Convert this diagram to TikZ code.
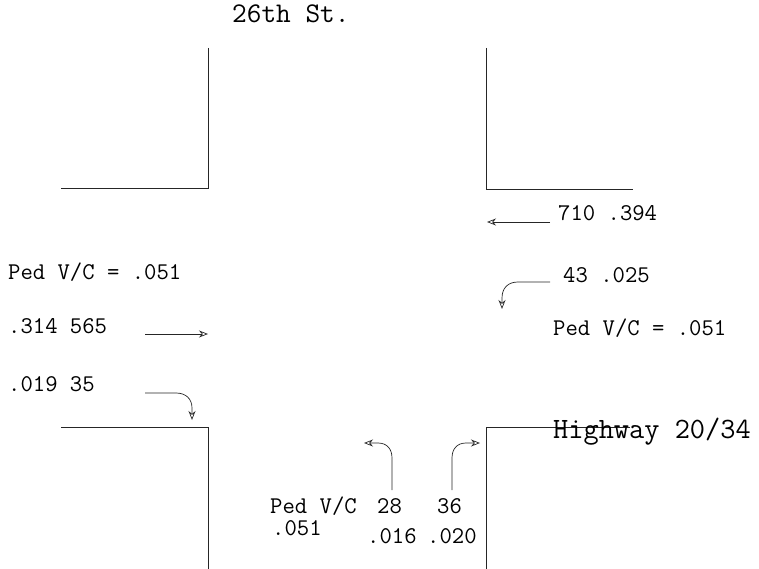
\documentclass[tikz,border=0pt]{standalone}
\usepackage{fontspec}
\usetikzlibrary{arrows.meta}
\tikzset{
  curb/.style={line width=0.7pt, draw=black!85},
  flow/.style={line width=0.7pt, draw=black!85, -{Stealth[open,length=9pt,width=7pt]}},
  lbl/.style={anchor=base west, inner sep=0pt, font=\ttfamily\fontsize{24}{24}\selectfont},
  big/.style={anchor=base west, inner sep=0pt, font=\ttfamily\fontsize{28.5}{28.5}\selectfont},
  bigger/.style={anchor=base west, inner sep=0pt, font=\ttfamily\fontsize{29.5}{29.5}\selectfont},
}
\begin{document}
\begin{tikzpicture}[x=1pt,y=-1pt]
\useasboundingbox (0,0) rectangle (759,569);
% curbs
\coordinate (tlA) at (208,48); \coordinate (tlB) at (208,188); \coordinate (tlC) at (61,188);
\coordinate (trA) at (486,48); \coordinate (trB) at (486,189); \coordinate (trC) at (633,189);
\coordinate (blA) at (61,427); \coordinate (blB) at (208,427); \coordinate (blC) at (208,569);
\coordinate (brA) at (630,427); \coordinate (brB) at (486,427); \coordinate (brC) at (486,569);
\draw[curb] (tlA) -- (tlB) -- (tlC);
\draw[curb] (trA) -- (trB) -- (trC);
\draw[curb] (blA) -- (blB) -- (blC);
\draw[curb] (brA) -- (brB) -- (brC);
% labels
\node[big] (st) at (232,23) {26th St.};
\node[bigger] (hw) at (553,438) {Highway 20/34};
\node[lbl] (wbt) at (558,221) {710 .394};
\node[lbl] (wbl) at (563,282) {43 .025};
\node[lbl] (pedw) at (8,279) {Ped V/C = .051};
\node[lbl] (pede) at (553,335) {Ped V/C = .051};
\node[lbl] (ebt) at (8,333) {.314 565};
\node[lbl] (ebr) at (8,391) {.019 35};
\node[lbl] (peds) at (270,513) {Ped V/C};
\node[lbl] (nbl) at (377,513) {28};
\node[lbl] (nbr) at (437,513) {36};
\node[lbl] (peds2) at (272,535) {.051};
\node[lbl] (nblv) at (367,543) {.016};
\node[lbl] (nbrv) at (427,543) {.020};
% arrows
\coordinate (a1s) at (550,222); \coordinate (a1e) at (487,222);
\draw[flow] (a1s) -- (a1e);
\coordinate (a2s) at (550,282); \coordinate (a2e) at (502,309);
\draw[flow] (a2s) -- (518,282) .. controls (508,282) and (502,288) .. (502,298) -- (a2e);
\coordinate (a3s) at (145,334); \coordinate (a3e) at (208,334);
\draw[flow] (a3s) -- (a3e);
\coordinate (a4s) at (145,393); \coordinate (a4e) at (192,420);
\draw[flow] (a4s) -- (176,393) .. controls (186,393) and (192,399) .. (192,408) -- (a4e);
\coordinate (a5s) at (392,490); \coordinate (a5e) at (364,443);
\draw[flow] (a5s) -- (392,458) .. controls (392,449) and (387,443) .. (378,443) -- (a5e);
\coordinate (a6s) at (452,490); \coordinate (a6e) at (480,443);
\draw[flow] (a6s) -- (452,458) .. controls (452,449) and (457,443) .. (466,443) -- (a6e);
\end{tikzpicture}
\end{document}
